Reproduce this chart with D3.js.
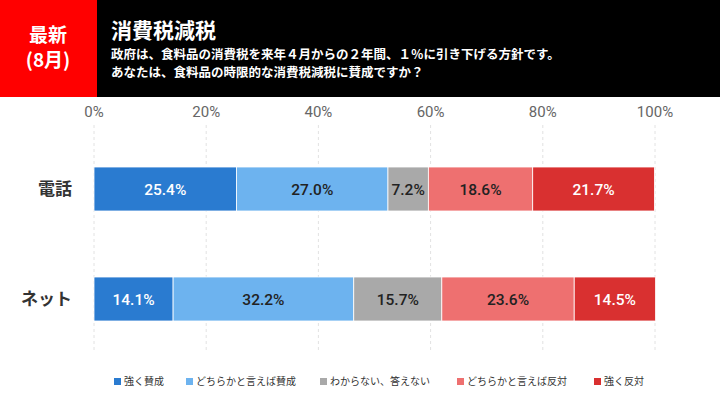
<!DOCTYPE html><html><head><meta charset="utf-8"><script src="https://cdn.jsdelivr.net/npm/d3@7"></script>
<style>body{margin:0}svg{font-family:"Noto Sans CJK JP",sans-serif}</style></head><body><svg id="c" width="720" height="405"></svg>
<script>
const categories=["電話","ネット"];
const series=["強く賛成","どちらかと言えば賛成","わからない、答えない","どちらかと言えば反対","強く反対"];
const colors=["#2a7bd0","#6db3ef","#a9a9a9","#ee7070","#d93030"];
const values=[[25.4,27.0,7.2,18.6,21.7],[14.1,32.2,15.7,23.6,14.5]];
const ticks=[0,20,40,60,80,100];
const svg=d3.select("#c");
svg.append("rect").attr("width",720).attr("height",405).attr("fill","#fff");
svg.append("rect").attr("width",720).attr("height",97).attr("fill","#000");
svg.append("rect").attr("width",97).attr("height",97).attr("fill","#f00");
svg.append("text").attr("x",48).attr("y",42).attr("text-anchor","middle").attr("fill","#fff").attr("font-size",19).attr("font-weight","bold").text("最新");
svg.append("text").attr("x",48).attr("y",67).attr("text-anchor","middle").attr("fill","#fff").attr("font-size",19).attr("font-weight","bold").text("(8月)");
svg.append("text").attr("x",111).attr("y",38).attr("fill","#fff").attr("font-size",21).attr("font-weight","bold").text("消費税減税");
svg.append("text").attr("x",111).attr("y",59).attr("fill","#fff").attr("font-size",12.5).attr("font-weight","bold").text("政府は、食料品の消費税を来年４月からの２年間、１％に引き下げる方針です。");
svg.append("text").attr("x",111).attr("y",77).attr("fill","#fff").attr("font-size",12.5).attr("font-weight","bold").text("あなたは、食料品の時限的な消費税減税に賛成ですか？");
const x=d3.scaleLinear().domain([0,100]).range([94,655]);
const y=d3.scaleBand().domain(categories).range([134,354]).paddingInner(0.6).paddingOuter(0.3);
ticks.forEach(t=>{
 svg.append("line").attr("x1",x(t)).attr("x2",x(t)).attr("y1",125).attr("y2",352).attr("stroke","#e2e2e2").attr("stroke-dasharray","3,3");
 svg.append("text").attr("x",x(t)).attr("y",117).attr("text-anchor","middle").attr("fill","#666").attr("font-size",15).attr("font-family","Roboto,sans-serif").text(t+"%");
});
categories.forEach((c,i)=>{
 let acc=0;
 values[i].forEach((v,j)=>{
  const x0=x(acc),x1=x(acc+v);acc+=v;
  svg.append("rect").attr("x",x0).attr("y",y(c)).attr("width",x1-x0).attr("height",y.bandwidth()).attr("fill",colors[j]).attr("stroke","#fff").attr("stroke-width",0.8);
  svg.append("text").attr("x",(x0+x1)/2).attr("y",y(c)+y.bandwidth()/2+5.5).attr("text-anchor","middle").attr("font-size",15.5).attr("font-family","Roboto,sans-serif").attr("font-weight",500)
   .attr("fill",(j==0||j==4)?"#fff":"#222").text(v.toFixed(1)+"%");
 });
 svg.append("text").attr("x",72).attr("y",y(c)+y.bandwidth()/2+6).attr("text-anchor","end").attr("font-size",17).attr("font-weight","bold").attr("fill","#333").text(c);
});
const lx=[114,186,320,457,594];
series.forEach((s,j)=>{
 svg.append("rect").attr("x",lx[j]).attr("y",378).attr("width",7).attr("height",7).attr("fill",colors[j]);
 svg.append("text").attr("x",lx[j]+10).attr("y",385).attr("font-size",10).attr("fill","#333").text(s);
});
</script></body></html>
